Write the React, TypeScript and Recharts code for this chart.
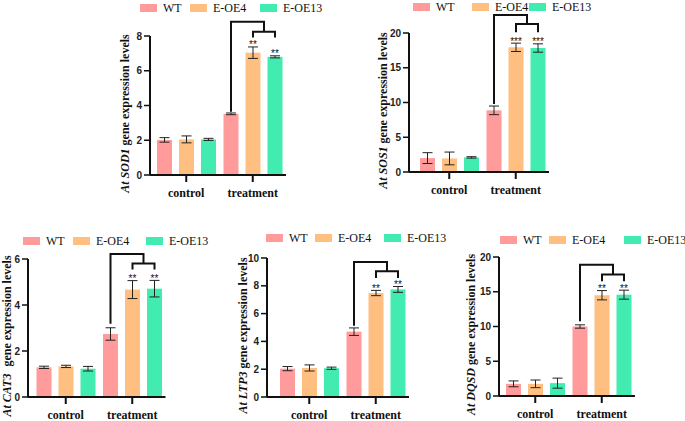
import React from 'react';
import { BarChart, Bar, XAxis, YAxis, ErrorBar, Legend } from 'recharts';

// ---------- shared ----------
const categories = ['control', 'treatment'];
const seriesNames = ['WT', 'E-OE4', 'E-OE13'];
const seriesKeys = ['wt', 'oe4', 'oe13'];
const seriesColors = ['#FF9B9B', '#FFBF80', '#42EBB0'];

// ---------- data: rows = categories, columns = series ----------
const sod1Mean = [[2.02, 2.05, 2.05], [3.52, 7.04, 6.8]];
const sod1Err = [[0.13, 0.2, 0.06], [0.05, 0.33, 0.06]];
const sod1Ticks = [0, 2, 4, 6, 8];
const sod1Bracket = [3.64, 8.82, 8.25, 7.92];

const sos1Mean = [[2.0, 1.95, 2.1], [8.87, 17.94, 17.84]];
const sos1Err = [[0.78, 0.92, 0.1], [0.62, 0.6, 0.6]];
const sos1Ticks = [0, 5, 10, 15, 20];
const sos1Bracket = [9.78, 22.6, 21.3, 20.1];

const cat3Mean = [[1.29, 1.33, 1.23], [2.74, 4.67, 4.71]];
const cat3Err = [[0.05, 0.05, 0.1], [0.27, 0.39, 0.36]];
const cat3Ticks = [0, 2, 4, 6];
const cat3Bracket = [3.19, 6.22, 5.8, 5.54];

const ltp3Mean = [[2.04, 2.09, 2.07], [4.7, 7.48, 7.74]];
const ltp3Err = [[0.15, 0.22, 0.08], [0.27, 0.19, 0.21]];
const ltp3Ticks = [0, 2, 4, 6, 8, 10];
const ltp3Bracket = [5.13, 9.71, 9.04, 8.56];

const dqsdMean = [[1.75, 1.75, 1.85], [10.0, 14.5, 14.58]];
const dqsdErr = [[0.42, 0.55, 0.72], [0.24, 0.67, 0.65]];
const dqsdTicks = [0, 5, 10, 15, 20];
const dqsdBracket = [10.74, 18.9, 17.5, 16.5];

const geneNames = ['SOD1', 'SOS1', 'CAT3', 'LTP3', 'DQSD'];
const starLabels = ['**', '***', '**', '**', '**'];

// ---------- layout ----------
const layouts = [
  { axisX: 150, plotTop: 36, plotBottom: 175, pad: 3, legendX: 140, legendY: 8, slots: [0, 50, 120], labelDx: -25, gap: 0 },
  { axisX: 409, plotTop: 33, plotBottom: 172, pad: 7, legendX: 413, legendY: 7, slots: [0, 59, 116], labelDx: -26, gap: 0 },
  { axisX: 28, plotTop: 259, plotBottom: 397, pad: 4.5, legendX: 23, legendY: 241, slots: [0, 50, 123], labelDx: -21, gap: 4 },
  { axisX: 267, plotTop: 258, plotBottom: 397, pad: 9, legendX: 266, legendY: 238, slots: [0, 49, 118], labelDx: -24, gap: 0 },
  { axisX: 499, plotTop: 257, plotBottom: 396, pad: 3, legendX: 500, legendY: 240, slots: [0, 49, 124], labelDx: -28, gap: 0 },
];

const panelData = [
  { mean: sod1Mean, err: sod1Err, ticks: sod1Ticks, bracket: sod1Bracket },
  { mean: sos1Mean, err: sos1Err, ticks: sos1Ticks, bracket: sos1Bracket },
  { mean: cat3Mean, err: cat3Err, ticks: cat3Ticks, bracket: cat3Bracket },
  { mean: ltp3Mean, err: ltp3Err, ticks: ltp3Ticks, bracket: ltp3Bracket },
  { mean: dqsdMean, err: dqsdErr, ticks: dqsdTicks, bracket: dqsdBracket },
];

const SERIF = '"Liberation Serif", "Times New Roman", serif';
const SANS = '"Liberation Sans", Arial, sans-serif';
const MARGIN_TOP = 30;
const MARGIN_LEFT = 20;
const Y_AXIS_W = 40;
const X_AXIS_H = 30;
const MARGIN_BOTTOM = 10;
const MARGIN_RIGHT = 10;

function buildRows(mean: number[][], err: number[][]) {
  return categories.map((c, ci) => {
    const row: any = { category: c };
    seriesKeys.forEach((k, si) => {
      row[k] = mean[ci][si];
      row[k + 'Err'] = err[ci][si];
    });
    return row;
  });
}

const registry: Record<number, any[]> = {};

function makeShape(pi: number, si: number) {
  return (props: any) => {
    const { x, y, width, height, fill, index, payload } = props;
    const key = seriesKeys[si];
    const value = payload ? payload[key] : 0;
    const els: any[] = [
      <rect key="r" x={x} y={y} width={width} height={height} fill={fill} />,
    ];
    if (index === 1 && value > 0) {
      const reg = registry[pi] || (registry[pi] = []);
      const base = y + height;
      const k = height / value;
      const cx = x + width / 2;
      reg[si] = { cx, base, k };
      const err = payload[key + 'Err'];
      if (si > 0) {
        const top = base - (value + err) * k;
        els.push(
          <text key="s" x={cx} y={top + 1.5} textAnchor="middle" fontSize={10} fontFamily={SANS} fill="#111">
            {starLabels[pi]}
          </text>
        );
      }
      if (si === 2 && reg[0] && reg[1]) {
        const [lb, ot, it, ilb] = panelData[pi].bracket;
        const py = (v: number) => base - v * k;
        const xW = reg[0].cx;
        const x4 = reg[1].cx;
        const xm = (x4 + cx) / 2;
        els.push(
          <path
            key="b"
            d={`M${xW},${py(lb)} V${py(ot)} H${xm} V${py(it)} M${x4},${py(ilb)} V${py(it)} H${cx} V${py(ilb)}`}
            fill="none"
            stroke="#111"
            strokeWidth={2}
          />
        );
      }
    }
    return <g>{els}</g>;
  };
}

function legendContent(slots: number[]) {
  return () => (
    <div style={{ position: 'relative', width: 220, height: 16 }}>
      {seriesNames.map((n, i) => (
        <div
          key={n}
          style={{
            position: 'absolute',
            left: slots[i],
            top: 0,
            height: 16,
            display: 'flex',
            alignItems: 'center',
            whiteSpace: 'nowrap',
          }}
        >
          <span style={{ display: 'inline-block', width: 17, height: 8, background: seriesColors[i], marginRight: 6 }} />
          <span style={{ fontFamily: SERIF, fontSize: 12, color: '#111', lineHeight: '16px' }}>{n}</span>
        </div>
      ))}
    </div>
  );
}

function yLabel(pi: number, plotH: number) {
  const L = layouts[pi];
  return (props: any) => {
    const vb = props && props.viewBox ? props.viewBox : null;
    const ok = vb && typeof vb.x === 'number' && typeof vb.width === 'number' && typeof vb.y === 'number';
    const axis = ok ? vb.x + vb.width : MARGIN_LEFT + Y_AXIS_W;
    const cyBase = ok ? vb.y + vb.height / 2 : MARGIN_TOP + plotH / 2;
    const cx = axis + L.labelDx;
    const cy = cyBase + 8;
    return (
      <text
        x={cx}
        y={cy}
        transform={`rotate(-90 ${cx} ${cy})`}
        textAnchor="middle"
        dominantBaseline="central"
        fontFamily={SERIF}
        fontWeight="bold"
        fontSize={12}
        fill="#111"
      >
        <tspan fontStyle="italic">{'At ' + geneNames[pi]}</tspan>
        <tspan dx={L.gap}>{' gene expression levels'}</tspan>
      </text>
    );
  };
}

function Panel({ pi }: { pi: number }) {
  const L = layouts[pi];
  const D = panelData[pi];
  const rows = buildRows(D.mean, D.err);
  const plotH = L.plotBottom - L.plotTop;
  const plotW = L.pad + 133;
  const chartLeft = L.axisX - MARGIN_LEFT - Y_AXIS_W;
  const chartTop = L.plotTop - MARGIN_TOP;
  const W = MARGIN_LEFT + Y_AXIS_W + plotW + MARGIN_RIGHT;
  const H = MARGIN_TOP + plotH + X_AXIS_H + MARGIN_BOTTOM;
  const yMax = D.ticks[D.ticks.length - 1];
  return (
    <div style={{ position: 'absolute', left: chartLeft, top: chartTop, width: W, height: H }}>
      <BarChart
        width={W}
        height={H}
        data={rows}
        margin={{ top: MARGIN_TOP, right: MARGIN_RIGHT, bottom: MARGIN_BOTTOM, left: MARGIN_LEFT }}
        barSize={15}
        barGap={7}
      >
        <XAxis
          dataKey="category"
          height={X_AXIS_H}
          interval={0}
          padding={{ left: L.pad, right: 0 }}
          axisLine={{ stroke: '#111', strokeWidth: 2 }}
          tickLine={{ stroke: '#111', strokeWidth: 2 }}
          tickSize={7}
          tickMargin={6}
          tick={{ fontFamily: SERIF, fontWeight: 'bold', fontSize: 12, fill: '#111' }}
        />
        <YAxis
          type="number"
          width={Y_AXIS_W}
          domain={[0, yMax]}
          ticks={D.ticks}
          interval={0}
          axisLine={{ stroke: '#111', strokeWidth: 2 }}
          tickLine={{ stroke: '#111', strokeWidth: 1.5 }}
          tickSize={6}
          tickMargin={2}
          tick={{ fontFamily: SANS, fontWeight: 'bold', fontSize: 10, fill: '#222' }}
          label={yLabel(pi, plotH)}
        />
        <Legend
          layout="horizontal"
          align="center"
          verticalAlign="middle"
          content={legendContent(L.slots)}
          wrapperStyle={{ top: L.legendY - chartTop - 8, left: L.legendX - chartLeft, width: 220, height: 16 }}
        />
        {seriesKeys.map((k, si) => (
          <Bar
            key={k}
            dataKey={k}
            name={seriesNames[si]}
            fill={seriesColors[si]}
            isAnimationActive={false}
            shape={makeShape(pi, si)}
          >
            <ErrorBar dataKey={k + 'Err'} width={5} stroke="#222" strokeWidth={1} />
          </Bar>
        ))}
      </BarChart>
    </div>
  );
}

export default function App() {
  return (
    <div style={{ position: 'absolute', left: 0, top: 0, width: 685, height: 421, background: '#fff', overflow: 'hidden' }}>
      {layouts.map((_, pi) => (
        <Panel key={pi} pi={pi} />
      ))}
    </div>
  );
}
